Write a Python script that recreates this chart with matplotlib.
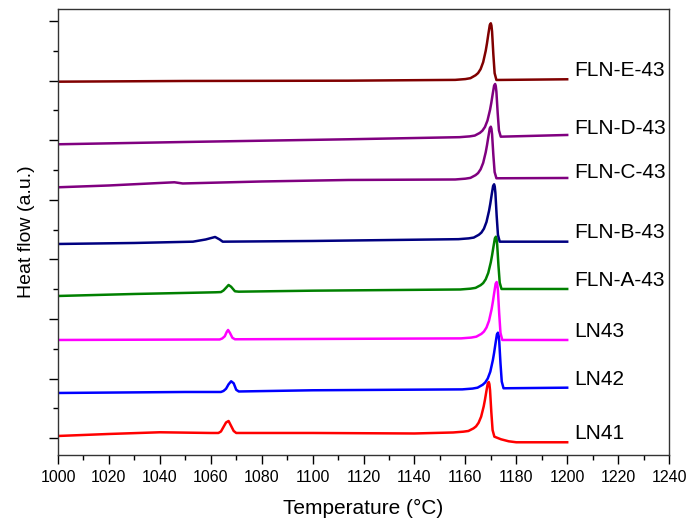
import matplotlib
matplotlib.use("Agg")
import matplotlib.pyplot as plt
from matplotlib.ticker import MultipleLocator

plt.rcParams['font.family'] = ['Liberation Sans', 'DejaVu Sans']

# DSC heating curves (heat flow in a.u., stacked)
ln41_t = [1000, 1020, 1040, 1060, 1063, 1064, 1065, 1066, 1067, 1068, 1069, 1070, 1100, 1140,
          1155.2, 1159.2, 1161.2, 1163.2, 1164.2, 1165.2, 1166.2, 1167.2, 1167.7, 1168.2, 1168.8,
          1169.2, 1169.45, 1169.7, 1170.2, 1170.7, 1171.4, 1174, 1177, 1180, 1190, 1200]
ln41_y = [2.3, 4.3, 6.0, 5.3, 5.3, 6.8, 11.3, 15.8, 17.3, 12.3, 7.3, 5.3, 5.3, 4.8,
          5.8, 6.6, 7.3, 9.9, 11.9, 15.5, 21.6, 31.8, 38.5, 46.1, 54.8,
          56.3, 54.1, 48.1, 26.2, 8.2, 1.6, -1.0, -3.0, -4.0, -4.0, -4.0]

ln42_t = [1000, 1050, 1064, 1065, 1066, 1067, 1068, 1069, 1070, 1071, 1100, 1158.8, 1162.8,
          1164.8, 1166.8, 1167.8, 1168.8, 1169.8, 1170.8, 1171.3, 1171.8, 1172.4, 1172.8, 1173.05,
          1173.3, 1173.8, 1174.3, 1175.0, 1200]
ln42_y = [45.3, 46.3, 46.3, 47.3, 49.5, 54.0, 57.0, 55.0, 48.5, 46.8, 48.0, 48.9, 49.7,
          50.6, 53.5, 55.8, 59.8, 66.6, 78.1, 85.5, 94.1, 103.9, 105.6, 103.4,
          97.3, 75.0, 56.7, 50.0, 50.6]

ln43_t = [1000, 1060, 1063.5, 1064.5, 1065.5, 1066.3, 1066.8, 1067.5, 1068.5, 1069.5, 1100,
          1158.3, 1162.3, 1164.3, 1166.3, 1167.3, 1168.3, 1169.3, 1170.3, 1170.8, 1171.3, 1171.9,
          1172.3, 1172.55, 1172.8, 1173.3, 1173.8, 1174.5, 1200]
ln43_y = [98.3, 98.8, 98.8, 99.8, 102.0, 106.5, 108.3, 105.5, 100.5, 99.0, 99.3,
          99.9, 100.7, 101.6, 104.4, 106.7, 110.7, 117.5, 128.9, 136.4, 144.9, 154.6,
          156.3, 154.0, 147.6, 124.4, 105.3, 98.3, 98.3]

flna_t = [1000, 1030, 1062, 1064, 1065, 1066, 1067, 1068, 1069.5, 1071, 1100, 1158, 1162,
          1164, 1166, 1167, 1168, 1169, 1170, 1170.5, 1171, 1171.6, 1172, 1172.25, 1172.5,
          1173, 1173.5, 1174.2, 1200]
flna_y = [142.3, 144.3, 146.0, 146.2, 147.8, 150.5, 153.3, 151.5, 147.0, 146.6, 147.6, 148.8, 149.6,
          150.4, 153.1, 155.2, 159.0, 165.4, 176.0, 183.0, 190.9, 200.0, 201.6, 199.5, 193.8,
          172.8, 155.6, 149.3, 149.3]

flnb_t = [1000, 1030, 1053, 1058, 1061.7, 1063.5, 1064.7, 1100, 1157.3, 1161.3,
          1163.3, 1165.3, 1166.3, 1167.3, 1168.3, 1169.3, 1169.8, 1170.3, 1170.9, 1171.3, 1171.55,
          1171.8, 1172.3, 1172.8, 1173.5, 1200]
flnb_y = [194.3, 195.3, 196.6, 198.8, 201.3, 198.8, 196.6, 197.3, 199.1, 199.9,
          200.7, 203.5, 205.7, 209.6, 216.3, 227.4, 234.6, 242.9, 252.3, 254.0, 251.7,
          245.4, 222.4, 203.5, 196.6, 196.6]

flnc_t = [1000, 1020, 1040, 1045.7, 1049, 1052, 1080, 1114, 1156, 1160,
          1162, 1164, 1165, 1166, 1167, 1168, 1168.5, 1169, 1169.6, 1170, 1170.25, 1170.5,
          1171, 1171.5, 1172.2, 1200]
flnc_y = [251.0, 252.8, 255.3, 256.0, 254.8, 255.0, 256.8, 258.3, 258.8, 259.6,
          260.4, 263.1, 265.2, 269.0, 275.4, 286.0, 293.0, 300.9, 310.0, 311.6, 309.5, 303.9,
          283.2, 266.2, 260.0, 260.3]

flnd_t = [1000, 1050, 1114, 1157.7, 1161.7,
          1163.7, 1165.7, 1166.7, 1167.7, 1168.7, 1169.7, 1170.2, 1170.7, 1171.3, 1171.7, 1171.95,
          1172.2, 1172.7, 1173.2, 1173.9, 1200]
flnd_y = [294.0, 296.3, 299.0, 301.1, 301.9,
          302.7, 305.4, 307.6, 311.3, 317.8, 328.5, 335.5, 343.6, 352.7, 354.3, 352.2,
          346.4, 325.3, 307.9, 301.6, 303.3]

flne_t = [1000, 1050, 1114, 1156, 1160,
          1162, 1164, 1165, 1166, 1167, 1168, 1168.5, 1169, 1169.6, 1170, 1170.25, 1170.5,
          1171, 1171.5, 1172.2, 1200]
flne_y = [356.6, 357.3, 357.6, 358.4, 359.2,
          360.1, 363.0, 365.2, 369.2, 376.1, 387.5, 395.0, 403.6, 413.3, 415.0, 412.7, 406.5,
          383.8, 365.1, 358.3, 359.0]

names = ["LN41", "LN42", "LN43", "FLN-A-43", "FLN-B-43", "FLN-C-43", "FLN-D-43", "FLN-E-43"]
temps = [ln41_t, ln42_t, ln43_t, flna_t, flnb_t, flnc_t, flnd_t, flne_t]
flows = [ln41_y, ln42_y, ln43_y, flna_y, flnb_y, flnc_y, flnd_y, flne_y]
colors = ["#ff0000", "#0000ff", "#ff00ff", "#008000", "#000080", "#800080", "#800080", "#800000"]
label_y = [4.3, 58.3, 106.8, 157.3, 205.3, 265.3, 309.3, 367.3]

fig = plt.figure(figsize=(6.89, 5.22), dpi=100)
ax = fig.add_axes([0.0842, 0.1284, 0.8868, 0.8544])

for t, y, c in zip(temps, flows, colors):
    ax.plot(t, y, color=c, lw=1.8)

for name, ly, c in zip(names, label_y, colors):
    ax.text(1202.7, ly, name, fontsize=15, va='center', ha='left')

ax.set_xlim(1000, 1240)
ax.set_ylim(-16.7, 429.3)
ax.xaxis.set_major_locator(MultipleLocator(20))
ax.xaxis.set_minor_locator(MultipleLocator(10))
ax.yaxis.set_major_locator(MultipleLocator(59.6))
ax.yaxis.set_minor_locator(MultipleLocator(29.8))
ax.set_yticklabels([])
ax.tick_params(which='major', direction='out', length=6.5, width=1.0, labelsize=11.5, pad=4.5)
ax.tick_params(which='minor', direction='out', length=3.6, width=1.0)
for s in ax.spines.values():
    s.set_linewidth(1.0)
    s.set_color("#333333")

ax.set_xlabel("Temperature (°C)", fontsize=15, labelpad=10)
ax.set_ylabel("Heat flow (a.u.)", fontsize=14, labelpad=5.5)

fig.savefig("out.png", dpi=100)
